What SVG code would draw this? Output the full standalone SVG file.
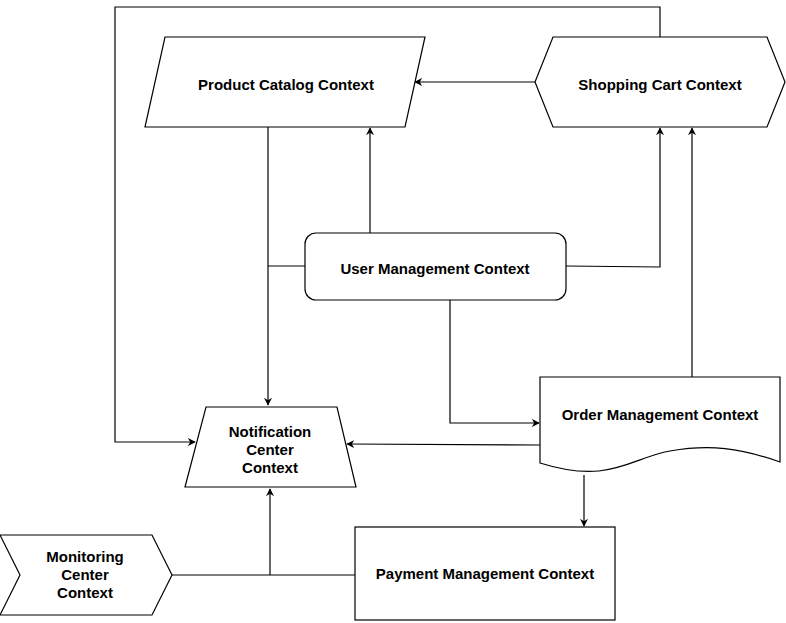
<svg xmlns="http://www.w3.org/2000/svg" width="786" height="623" viewBox="0 0 786 623">
<style>
.s{fill:#fff;stroke:#000;stroke-width:1.2}
.t{font-family:"Liberation Sans",Arial,sans-serif;font-weight:bold;font-size:15px;fill:#000;text-anchor:middle;dominant-baseline:central}
.c{fill:none;stroke:#000;stroke-width:1.2}
</style>
<defs>
<marker id="a" viewBox="0 0 10 10" refX="9" refY="5" markerWidth="8" markerHeight="8" markerUnits="userSpaceOnUse" orient="auto">
<path d="M0,0 L10,5 L0,10 L3,5 Z" fill="#000"/>
</marker>
</defs>
<rect width="786" height="623" fill="#fff"/>
<g id="connectors">
<path class="c" d="M660,37 V7 H115 V442 H195" marker-end="url(#a)"/>
<path class="c" d="M535,82 H415" marker-end="url(#a)"/>
<path class="c" d="M370,233 V128" marker-end="url(#a)"/>
<path class="c" d="M268,127 V405" marker-end="url(#a)"/>
<path class="c" d="M305,266 H268"/>
<path class="c" d="M566,266 L660,267 V128" marker-end="url(#a)"/>
<path class="c" d="M692,377 V128" marker-end="url(#a)"/>
<path class="c" d="M450,300 V423 H539" marker-end="url(#a)"/>
<path class="c" d="M540,445 L347,444" marker-end="url(#a)"/>
<path class="c" d="M584,475 V526" marker-end="url(#a)"/>
<path class="c" d="M172,575 L355,575"/>
<path class="c" d="M270,575 V489" marker-end="url(#a)"/>
</g>
<g id="product-catalog">
<polygon class="s" points="165,37 425,37 405,127 145,127"/>
<text class="t" x="286" y="84">Product Catalog Context</text>
</g>
<g id="shopping-cart">
<polygon class="s" points="553,37 767,37 785,82 767,127 553,127 535,82"/>
<text class="t" x="660" y="84">Shopping Cart Context</text>
</g>
<g id="user-management">
<rect class="s" x="305" y="233" width="261" height="67" rx="11"/>
<text class="t" x="435" y="268">User Management Context</text>
</g>
<g id="order-management">
<path class="s" d="M540,377 H780 V462 C740,448 710,444 670,451 C630,458 610,485 540,463 Z"/>
<text class="t" x="660" y="414">Order Management Context</text>
</g>
<g id="notification-center">
<polygon class="s" points="206,407 337,407 356,487 185,487"/>
<text class="t" x="270" y="431">Notification</text>
<text class="t" x="270" y="449">Center</text>
<text class="t" x="270" y="467">Context</text>
</g>
<g id="payment-management">
<rect class="s" x="355" y="527" width="260" height="93"/>
<text class="t" x="485" y="573">Payment Management Context</text>
</g>
<g id="monitoring-center">
<polygon class="s" points="0,535 152,535 172,575 152,615 0,615 20,575"/>
<text class="t" x="85" y="556">Monitoring</text>
<text class="t" x="85" y="574">Center</text>
<text class="t" x="85" y="592">Context</text>
</g>
</svg>
